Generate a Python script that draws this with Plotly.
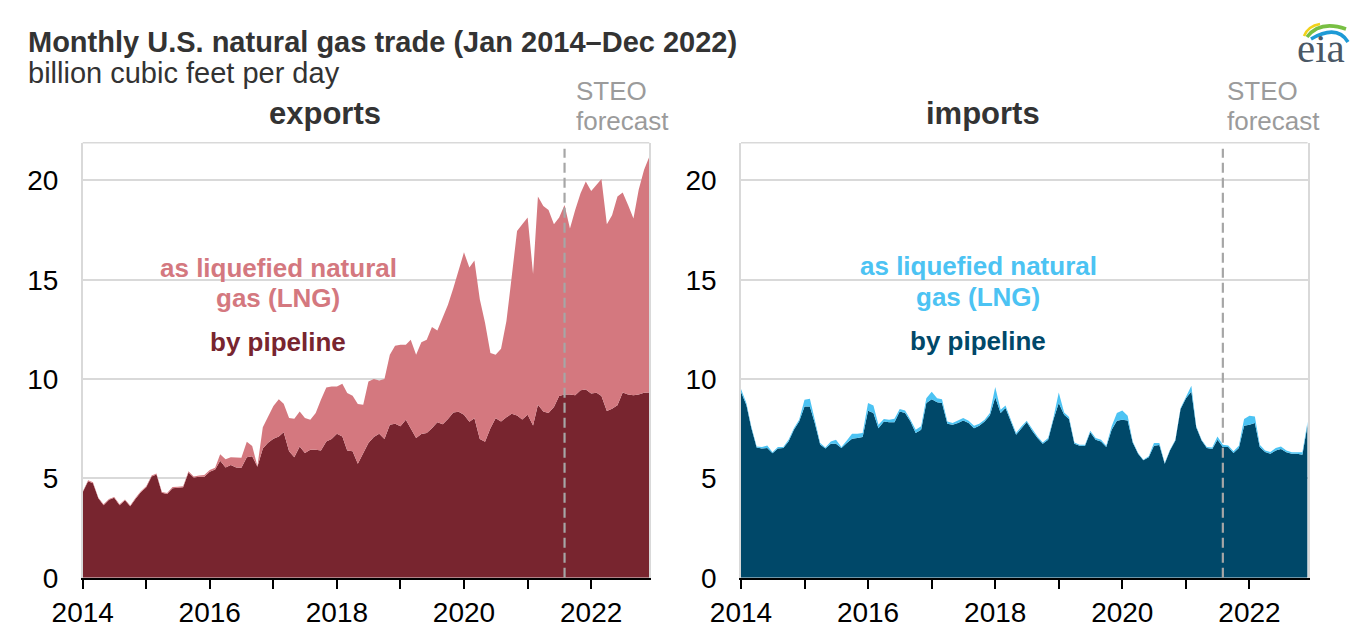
import pandas as pd
import plotly.graph_objects as go

W, H = 1368, 629
FONT = "Liberation Sans, Arial, sans-serif"

months = pd.date_range("2014-01-01", periods=108, freq="MS")

# Exports (billion cubic feet per day)
exp_pipeline = [
    4.30, 4.85, 4.75, 4.00, 3.65, 3.92, 4.02, 3.65, 3.90, 3.60, 3.98, 4.30,
    4.55, 5.10, 5.20, 4.28, 4.22, 4.50, 4.53, 4.55, 5.30, 5.05, 5.08, 5.08,
    5.34, 5.45, 5.89, 5.55, 5.67, 5.55, 5.54, 6.06, 6.12, 5.59, 6.51, 6.80,
    7.00, 7.11, 7.32, 6.36, 6.07, 6.61, 6.28, 6.44, 6.44, 6.41, 6.86, 6.98,
    7.25, 7.11, 6.41, 6.36, 5.74, 6.31, 6.78, 7.08, 7.25, 6.98, 7.70, 7.75,
    7.62, 7.95, 7.53, 7.03, 7.23, 7.28, 7.53, 7.82, 7.73, 7.99, 8.32, 8.36,
    8.20, 7.85, 8.03, 6.98, 6.85, 7.53, 8.03, 7.86, 8.08, 8.25, 8.17, 7.97,
    8.20, 7.66, 8.71, 8.37, 8.29, 8.59, 9.15, 9.22, 9.22, 9.19, 9.44, 9.47,
    9.27, 9.31, 9.15, 8.39, 8.51, 8.68, 9.32, 9.22, 9.19, 9.22, 9.31, 9.32,
]
exp_total = [
    4.33, 4.90, 4.80, 4.03, 3.70, 3.96, 4.06, 3.70, 3.94, 3.64, 4.02, 4.35,
    4.60, 5.15, 5.25, 4.32, 4.27, 4.56, 4.58, 4.60, 5.36, 5.10, 5.15, 5.17,
    5.42, 5.54, 6.21, 5.96, 6.06, 6.06, 6.04, 6.85, 6.63, 5.62, 7.57, 8.10,
    8.65, 8.99, 8.76, 8.04, 8.00, 8.37, 8.04, 7.95, 8.29, 8.96, 9.58, 9.63,
    9.63, 9.77, 9.30, 9.16, 8.74, 8.71, 9.88, 10.00, 9.93, 10.00, 11.22, 11.68,
    11.73, 11.73, 11.98, 11.22, 11.85, 11.98, 12.62, 12.45, 13.15, 13.74, 14.58, 15.47,
    16.38, 15.62, 15.97, 14.02, 12.83, 11.31, 11.22, 11.53, 12.92, 15.12, 17.46, 17.80,
    18.14, 15.29, 19.19, 18.71, 18.51, 17.80, 18.14, 18.76, 17.58, 18.51, 19.36, 19.95,
    19.47, 19.78, 20.07, 17.80, 18.25, 19.19, 19.39, 18.76, 18.08, 19.53, 20.54, 21.19,
]

# Imports (billion cubic feet per day)
imp_pipeline = [
    9.35, 8.70, 7.55, 6.55, 6.50, 6.53, 6.26, 6.51, 6.53, 6.86, 7.45, 7.87,
    8.62, 8.62, 7.79, 6.71, 6.51, 6.74, 6.74, 6.53, 6.78, 7.00, 7.03, 7.08,
    8.41, 8.29, 7.53, 7.87, 7.82, 7.82, 8.37, 8.29, 7.87, 7.28, 7.45, 8.79,
    8.99, 8.83, 8.79, 7.75, 7.70, 7.79, 7.92, 7.79, 7.53, 7.65, 7.87, 8.17,
    9.09, 8.29, 8.54, 7.87, 7.20, 7.53, 7.84, 7.40, 7.03, 6.74, 6.95, 7.95,
    8.79, 8.20, 7.99, 6.74, 6.64, 6.64, 7.32, 6.95, 6.86, 6.58, 7.45, 7.90,
    7.95, 7.92, 6.81, 6.24, 5.91, 6.07, 6.64, 6.68, 5.74, 6.41, 6.91, 8.49,
    9.04, 9.38, 7.57, 6.91, 6.53, 6.48, 6.95, 6.58, 6.58, 6.28, 6.53, 7.65,
    7.70, 7.79, 6.58, 6.33, 6.24, 6.41, 6.48, 6.31, 6.24, 6.24, 6.19, 7.70,
]
imp_total = [
    9.50, 8.79, 7.62, 6.61, 6.58, 6.66, 6.31, 6.58, 6.58, 6.95, 7.53, 7.95,
    8.96, 9.01, 7.95, 6.78, 6.56, 6.86, 6.95, 6.58, 6.91, 7.25, 7.25, 7.28,
    8.79, 8.67, 7.70, 7.99, 7.95, 8.00, 8.49, 8.42, 7.95, 7.45, 7.62, 9.04,
    9.36, 9.04, 8.99, 7.87, 7.79, 7.92, 8.04, 7.90, 7.65, 7.75, 7.95, 8.29,
    9.60, 8.46, 8.67, 7.95, 7.28, 7.62, 7.90, 7.50, 7.11, 6.81, 7.03, 8.04,
    9.33, 8.32, 8.09, 6.81, 6.69, 6.69, 7.40, 7.03, 6.95, 6.64, 7.62, 8.29,
    8.42, 8.15, 6.86, 6.28, 5.94, 6.11, 6.78, 6.78, 5.77, 6.44, 6.95, 8.54,
    9.09, 9.66, 7.62, 6.95, 6.58, 6.56, 7.11, 6.69, 6.66, 6.36, 6.64, 7.99,
    8.15, 8.12, 6.69, 6.41, 6.33, 6.53, 6.61, 6.41, 6.31, 6.31, 6.31, 7.87,
]

forecast_start = "2021-08-01"
y_ticks = [0, 5, 10, 15, 20]
x_range = ["2014-01-01", "2022-12-01"]
y_max = 21.9

EXP_DARK, EXP_LIGHT = "#78252f", "#d4787f"
IMP_DARK, IMP_LIGHT = "#004869", "#4cc3f3"

def px(x):
    return x / W

def py(y):
    return 1 - y / H

fig = go.Figure()

def add_pair(pipe, total, dark, light, xa, ya, name):
    fig.add_trace(go.Scatter(x=months, y=pipe, mode="lines", line=dict(width=0, color=dark),
                             fill="tozeroy", fillcolor=dark, xaxis=xa, yaxis=ya,
                             name=name + " by pipeline", showlegend=False, hoverinfo="skip"))
    fig.add_trace(go.Scatter(x=months, y=total, mode="lines", line=dict(width=0, color=light),
                             fill="tonexty", fillcolor=light, xaxis=xa, yaxis=ya,
                             name=name + " as LNG", showlegend=False, hoverinfo="skip"))

add_pair(exp_pipeline, exp_total, EXP_DARK, EXP_LIGHT, "x", "y", "exports")
add_pair(imp_pipeline, imp_total, IMP_DARK, IMP_LIGHT, "x2", "y2", "imports")

xaxis_common = dict(
    type="date", range=x_range, dtick="M24", tick0="2014-01-01", tickformat="%Y",
    ticks="outside", ticklen=9, tickwidth=2, tickcolor="black",
    showline=True, linecolor="black", linewidth=2, showgrid=False,
    tickfont=dict(family=FONT, size=28, color="black"), ticklabelstandoff=0,
    minor=dict(dtick="M12", tick0="2014-01-01", ticks="outside", ticklen=9, tickwidth=2,
               tickcolor="black", showgrid=False),
    zeroline=False, fixedrange=True, automargin=False,
)
yaxis_common = dict(
    range=[0, y_max], tickvals=y_ticks, ticks="", showgrid=True, gridcolor="#d9d9d9",
    gridwidth=1.5, showline=True, linecolor="#d9d9d9", linewidth=1.5, mirror=True,
    zeroline=False, tickfont=dict(family=FONT, size=28, color="black"),
    ticklabelstandoff=17, fixedrange=True, automargin=False,
)

y0, y1 = py(577.7), py(142.7)
fig.update_layout(
    width=W, height=H, autosize=False,
    margin=dict(l=0, r=0, t=0, b=0, pad=0, autoexpand=False),
    paper_bgcolor="white", plot_bgcolor="white",
    font=dict(family=FONT, color="#333333"),
    xaxis=dict(domain=[px(82.7), px(649.3)], anchor="y", **xaxis_common),
    yaxis=dict(domain=[y0, y1], anchor="x", **yaxis_common),
    xaxis2=dict(domain=[px(741), px(1307.6)], anchor="y2", **xaxis_common),
    yaxis2=dict(domain=[y0, y1], anchor="x2", **yaxis_common),
)

shapes = []
for xr, yr in (("x", "y"), ("x2", "y2")):
    shapes.append(dict(type="line", xref=xr + " domain", yref=yr + " domain",
                       x0=0, x1=1, y0=1, y1=1, line=dict(color="#d9d9d9", width=1.5)))
    shapes.append(dict(type="line", xref=xr, yref=yr, x0=forecast_start, x1=forecast_start,
                       y0=0, y1=21.6, line=dict(color="#a6a6a6", width=2.2, dash="10px,5px"),
                       layer="above"))

# eia logo arcs
def arc(p0, c, p1, color, width):
    path = "M {} {} Q {} {} {} {}".format(px(p0[0]), py(p0[1]), px(c[0]), py(c[1]), px(p1[0]), py(p1[1]))
    return dict(type="path", xref="paper", yref="paper", path=path,
                line=dict(color=color, width=width))

shapes.append(arc((1304, 36), (1308, 26), (1320, 24), "#f2d21b", 2.5))
shapes.append(arc((1307, 37), (1320, 20), (1346, 29), "#78bf43", 3.5))
shapes.append(arc((1311, 39), (1337, 24), (1348, 42), "#1d9ad6", 3.5))
fig.update_layout(shapes=shapes)

ann = []
def text(t, x, y, size, color, bold=False, xanchor="center", family=FONT):
    ann.append(dict(text=("<b>%s</b>" % t) if bold else t, x=px(x), y=py(y),
                    xref="paper", yref="paper", xanchor=xanchor, yanchor="middle",
                    showarrow=False, font=dict(family=family, size=size, color=color)))

text("Monthly U.S. natural gas trade (Jan 2014\u2013Dec 2022)", 26, 42, 29, "#333333", True, "left")
text("billion cubic feet per day", 26, 73, 29, "#333333", False, "left")
text("exports", 325, 113, 31, "#333333", True)
text("imports", 983, 113, 31, "#333333", True)
for x0 in (574, 1225):
    text("STEO", x0, 91, 26, "#9b9b9b", False, "left")
    text("forecast", x0, 121, 26, "#9b9b9b", False, "left")

text("as liquefied natural", 278, 268, 26, EXP_LIGHT, True)
text("gas (LNG)", 278, 298, 26, EXP_LIGHT, True)
text("by pipeline", 278, 342, 26, EXP_DARK, True)
text("as liquefied natural", 978, 266, 26, IMP_LIGHT, True)
text("gas (LNG)", 978, 297, 26, IMP_LIGHT, True)
text("by pipeline", 978, 341, 26, IMP_DARK, True)

text("eia", 1321, 48, 41, "#4a5866", False, "center", "Liberation Serif, DejaVu Serif, serif")
fig.update_layout(annotations=ann)

fig.write_html(
    "out.html",
    config={"displayModeBar": False},
    post_script="document.body.style.margin='0';document.body.style.overflow='hidden';"
                "document.documentElement.style.overflow='hidden';",
)
